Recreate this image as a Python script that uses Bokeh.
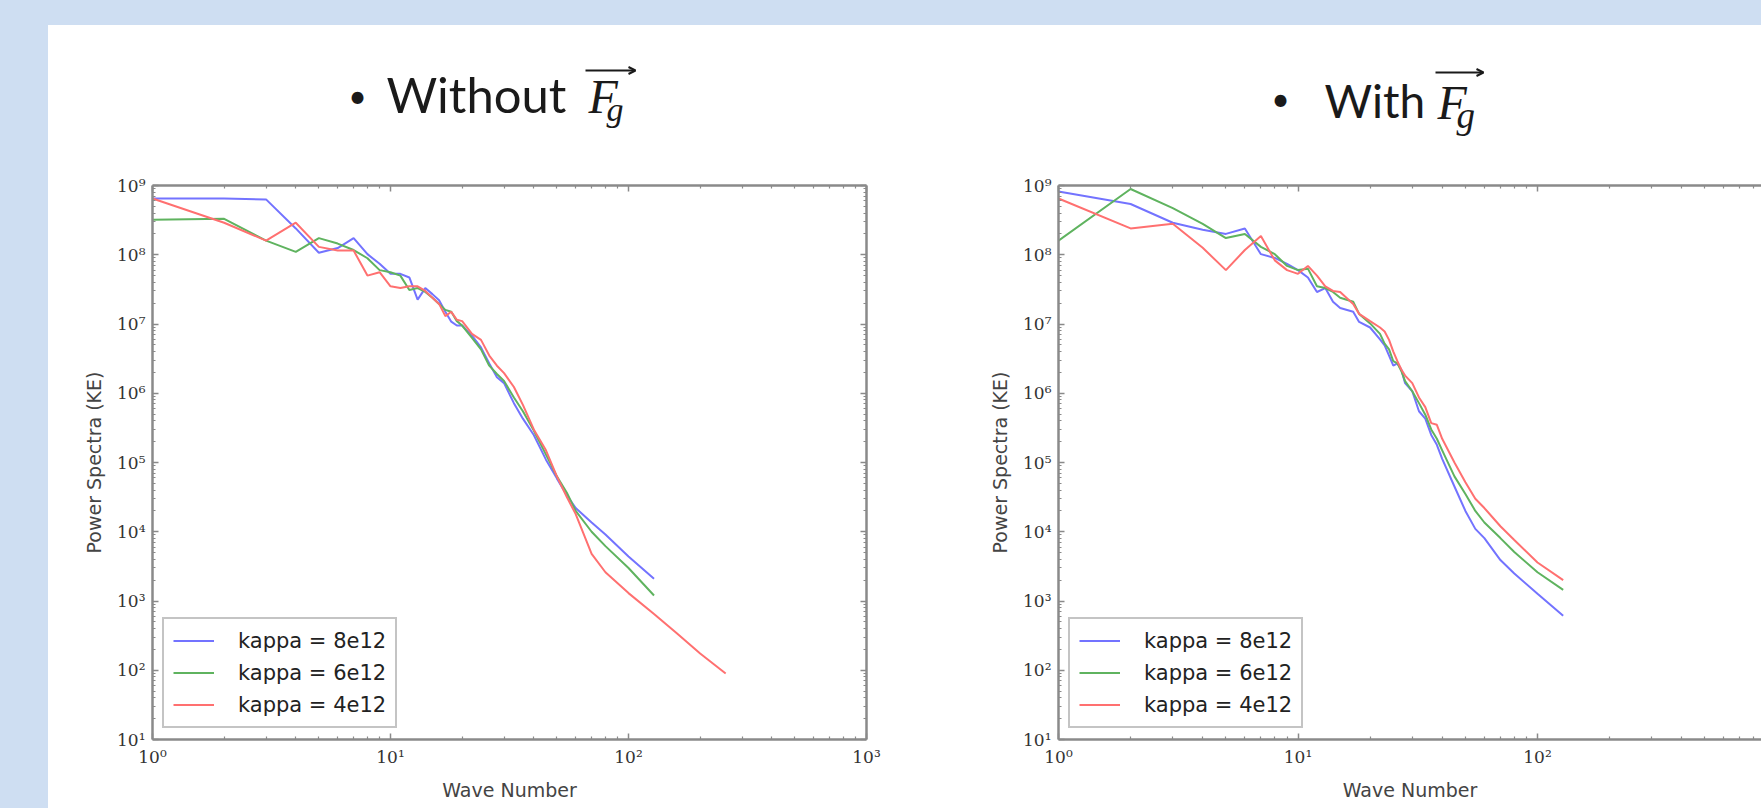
import numpy as np
from bokeh.plotting import figure
from bokeh.layouts import column, row
from bokeh.models import (FixedTicker, CustomJSTickFormatter, LogAxis, Legend, LegendItem,
                          Arrow, OpenHead, Range1d, Spacer)
from bokeh.core.properties import value
from bokeh.embed import file_html
from bokeh.resources import INLINE

BG = "#CEDEF2"

series_labels = ["kappa = 8e12", "kappa = 6e12", "kappa = 4e12"]
series_colors = ["#7373ff", "#5fb35f", "#ff7070"]
x_label = "Wave Number"
y_label = "Power Spectra (KE)"
titles = ["Without", "With"]

# ---- left panel (without F_g) ----
left_k = [1, 2, 3, 4, 5, 6, 7, 8, 9, 10, 11, 12, 13, 14, 15, 16, 17, 18, 19, 20,
          22, 24, 26, 28, 30, 33, 36, 40, 45, 50, 55, 60, 70, 80, 100, 128]
left_blue = [6.5e8, 6.5e8, 6.3e8, 2.4e8, 1.07e8, 1.25e8, 1.74e8, 1.02e8, 7.4e7, 5.3e7,
             5.3e7, 4.7e7, 2.25e7, 3.3e7, 2.7e7, 2.2e7, 1.5e7, 1.08e7, 9.5e6, 9.5e6,
             6.8e6, 4.6e6, 2.7e6, 1.7e6, 1.4e6, 7.2e5, 4.3e5, 2.5e5, 1.1e5, 5.9e4,
             3.4e4, 2.2e4, 1.36e4, 9.1e3, 4.4e3, 2.1e3]
left_green = [3.2e8, 3.3e8, 1.6e8, 1.1e8, 1.74e8, 1.45e8, 1.17e8, 8.9e7, 6.0e7, 5.6e7,
              5.0e7, 3.1e7, 3.3e7, 2.9e7, 2.4e7, 1.95e7, 1.6e7, 1.5e7, 1.1e7, 9.5e6,
              6.3e6, 4.3e6, 2.5e6, 1.9e6, 1.5e6, 8.7e5, 5.5e5, 2.9e5, 1.3e5, 6.3e4,
              3.7e4, 2.0e4, 1.0e4, 6.2e3, 3.0e3, 1.2e3]
left_red_k = left_k + [160, 200, 256]
left_red = [6.5e8, 2.9e8, 1.6e8, 2.9e8, 1.3e8, 1.15e8, 1.15e8, 5.0e7, 5.6e7, 3.5e7,
            3.3e7, 3.5e7, 3.5e7, 3.0e7, 2.4e7, 1.95e7, 1.3e7, 1.5e7, 1.15e7, 1.1e7,
            7.2e6, 5.9e6, 3.5e6, 2.5e6, 1.95e6, 1.23e6, 6.8e5, 3.0e5, 1.5e5, 6.3e4,
            3.2e4, 1.8e4, 4.8e3, 2.6e3, 1.3e3, 6.5e2, 3.4e2, 1.75e2, 90]

# ---- right panel (with F_g) ----
right_k = [1, 2, 3, 4, 5, 6, 7, 8, 9, 10, 11, 12, 13, 14, 15, 17, 18, 20, 22, 23,
           24, 25, 26, 27, 28, 30, 32, 34, 36, 38, 40, 45, 50, 55, 60, 70, 80, 100, 128]
right_blue = [8.2e8, 5.4e8, 2.9e8, 2.3e8, 2.0e8, 2.4e8, 1.02e8, 9.0e7, 7.4e7, 6.0e7,
              4.7e7, 2.9e7, 3.3e7, 2.1e7, 1.7e7, 1.5e7, 1.07e7, 8.9e6, 6.0e6, 4.9e6,
              3.5e6, 2.5e6, 2.7e6, 2.2e6, 1.4e6, 1.07e6, 5.5e5, 4.3e5, 2.5e5, 1.8e5,
              1.13e5, 4.5e4, 2.0e4, 1.1e4, 8.1e3, 3.9e3, 2.5e3, 1.27e3, 6.1e2]
right_green = [1.6e8, 8.9e8, 4.7e8, 2.8e8, 1.74e8, 2.0e8, 1.3e8, 1.02e8, 6.9e7, 6.0e7,
               6.3e7, 3.5e7, 3.3e7, 2.9e7, 2.4e7, 2.1e7, 1.4e7, 1.02e7, 7.2e6, 5.2e6,
               4.3e6, 2.9e6, 2.7e6, 2.1e6, 1.5e6, 1.07e6, 7.2e5, 4.9e5, 3.0e5, 2.2e5,
               1.5e5, 6.3e4, 3.5e4, 2.0e4, 1.36e4, 8.1e3, 5.1e3, 2.6e3, 1.45e3]
right_red = [6.5e8, 2.4e8, 2.8e8, 1.26e8, 6.0e7, 1.17e8, 1.86e8, 8.3e7, 6.0e7, 5.3e7,
             6.9e7, 5.0e7, 3.5e7, 3.0e7, 2.9e7, 1.95e7, 1.4e7, 1.1e7, 8.9e6, 7.8e6,
             5.9e6, 4.0e6, 2.9e6, 2.2e6, 1.8e6, 1.4e6, 8.7e5, 6.3e5, 3.7e5, 3.5e5,
             2.2e5, 1.0e5, 5.2e4, 3.0e4, 2.2e4, 1.2e4, 7.6e3, 3.6e3, 2.0e3]

x_decades = [0, 1, 2, 3]
y_decades = [1, 2, 3, 4, 5, 6, 7, 8, 9]

SUP_JS = """
const sup = {'0':'\\u2070','1':'\\u00B9','2':'\\u00B2','3':'\\u00B3','4':'\\u2074',
             '5':'\\u2075','6':'\\u2076','7':'\\u2077','8':'\\u2078','9':'\\u2079','-':'\\u207B'};
const e = Math.round(Math.log10(tick));
return '10' + String(e).split('').map(c => sup[c]).join('');
"""

AX_COL = "#8a8a8a"
TXT_COL = "#333333"
PAGE_W = 1761
TOP_BAND = 25
LEFT_BAND = 48
TITLE_H = 148          # height of the title strip above the panels
TOP_GAP = 12           # border between title strip and the frames


def tickers():
    xt = FixedTicker(ticks=[10.0 ** d for d in x_decades],
                     minor_ticks=[m * 10.0 ** d for d in x_decades[:-1] for m in range(2, 10)])
    yt = FixedTicker(ticks=[10.0 ** d for d in y_decades],
                     minor_ticks=[m * 10.0 ** d for d in y_decades[:-1] for m in range(2, 10)])
    return xt, yt


def style_axis(ax, ticker, show_labels=True):
    ax.ticker = ticker
    ax.axis_line_color = AX_COL
    ax.axis_line_width = 2.5
    ax.major_tick_line_color = AX_COL
    ax.minor_tick_line_color = AX_COL
    ax.major_tick_line_width = 1.5
    ax.minor_tick_line_width = 1.2
    ax.major_tick_in = 6
    ax.major_tick_out = 0
    ax.minor_tick_in = 3
    ax.minor_tick_out = 0
    if show_labels:
        ax.formatter = CustomJSTickFormatter(code=SUP_JS)
        ax.major_label_text_font = "DejaVu Serif"
        ax.major_label_text_font_size = "17px"
        ax.major_label_text_color = TXT_COL
    else:
        ax.major_label_text_font_size = "0px"
        ax.major_label_text_alpha = 0
        ax.major_label_standoff = 0


def make_panel(frame_w, x_end, border_left, border_right, kx, blue, green, redk, red,
               with_right_axis):
    p = figure(x_axis_type="log", y_axis_type="log",
               x_range=Range1d(1, x_end), y_range=Range1d(10, 1e9),
               frame_width=frame_w, frame_height=554,
               min_border_left=border_left, min_border_right=border_right,
               min_border_top=TOP_GAP, min_border_bottom=69,
               toolbar_location=None, output_backend="svg",
               background_fill_color="white", border_fill_color="white")
    p.outline_line_color = None
    p.grid.visible = False
    xt, yt = tickers()
    style_axis(p.xaxis[0], xt)
    style_axis(p.yaxis[0], yt)
    p.xaxis[0].major_label_standoff = 7
    p.yaxis[0].major_label_standoff = 7
    p.xaxis[0].axis_label = x_label
    p.yaxis[0].axis_label = y_label
    for ax in (p.xaxis[0], p.yaxis[0]):
        ax.axis_label_text_font = "DejaVu Sans"
        ax.axis_label_text_font_size = "19px"
        ax.axis_label_text_font_style = "normal"
        ax.axis_label_text_color = "#444444"
        ax.axis_label_standoff = 9
    top = LogAxis()
    style_axis(top, tickers()[0], show_labels=False)
    p.add_layout(top, "above")
    if with_right_axis:
        right = LogAxis()
        style_axis(right, tickers()[1], show_labels=False)
        p.add_layout(right, "right")

    rb = p.line(kx, blue, line_color=series_colors[0], line_width=2)
    rg = p.line(kx, green, line_color=series_colors[1], line_width=2)
    rr = p.line(redk, red, line_color=series_colors[2], line_width=2)

    legend = Legend(items=[LegendItem(label=series_labels[0], renderers=[rb]),
                           LegendItem(label=series_labels[1], renderers=[rg]),
                           LegendItem(label=series_labels[2], renderers=[rr])],
                    location=(10, 11), margin=0, padding=9, spacing=7,
                    glyph_width=41, glyph_height=25, label_height=25, label_standoff=24,
                    label_text_font="DejaVu Sans", label_text_font_size="21px",
                    label_text_color="#222222",
                    border_line_color=AX_COL, border_line_width=2.5,
                    background_fill_color="white", background_fill_alpha=1)
    p.add_layout(legend)
    return p


# ---------- title strip: one figure whose data space equals page pixels ----------
strip = figure(width=PAGE_W - LEFT_BAND, height=TITLE_H,
               x_range=Range1d(LEFT_BAND, PAGE_W),
               y_range=Range1d(TOP_BAND + TITLE_H, TOP_BAND), min_border=0,
               toolbar_location=None, output_backend="svg",
               background_fill_color="white", border_fill_color="white")
strip.outline_line_color = None
strip.axis.visible = False
strip.grid.visible = False

TCOL = "#1a1a1a"
# (bullet x, bullet y, word x, word y, word size, F x, F y, g x, g y, g size, arrow x0, x1, y)
title_pos = [(357, 95, 386, 93, "49px", 588, 96, 606, 109, "34px", 585, 635, 70),
             (1280, 98, 1324, 100, "46px", 1437, 102, 1456, 115, "37px", 1435, 1483, 72)]

for word, (bx, by, wx, wy, ws, fx, fy, gx, gy, gs, ax0, ax1, ay) in zip(titles, title_pos):
    strip.text(x=[bx], y=[by], text=["\u2022"], text_align="center", text_baseline="middle",
               text_font=value("Lato"), text_font_size="32px", text_color=TCOL)
    strip.text(x=[wx], y=[wy], text=[word], text_align="left", text_baseline="middle",
               text_font=value("Lato"), text_font_size=ws, text_color=TCOL)
    strip.text(x=[fx], y=[fy], text=["F"], text_align="left", text_baseline="middle",
               text_font=value("Liberation Serif"), text_font_style="italic",
               text_font_size="48px", text_color=TCOL)
    strip.text(x=[gx], y=[gy], text=["g"], text_align="left", text_baseline="middle",
               text_font=value("Liberation Serif"), text_font_style="italic",
               text_font_size=gs, text_color=TCOL)
    strip.add_layout(Arrow(x_start=ax0, y_start=ay, x_end=ax1, y_end=ay,
                           line_color=TCOL, line_width=2,
                           end=OpenHead(size=7, line_width=2, line_color=TCOL)))

# ---------- panels ----------
right_frame_w = 703
pL = make_panel(714, 1000.0, 104, 74, left_k, left_blue, left_green, left_red_k, left_red, True)
pR = make_panel(right_frame_w, 10 ** (right_frame_w / 239.5), 118, 0,
                right_k, right_blue, right_green, right_k, right_red, False)


def band(w, h):
    return Spacer(width=w, height=h, styles={"background-color": BG})


panel_h = 808 - TOP_BAND - TITLE_H
layout = column(band(PAGE_W, TOP_BAND),
                row(band(LEFT_BAND, TITLE_H), strip, spacing=0),
                row(band(LEFT_BAND, panel_h), pL, pR, spacing=0),
                spacing=0)

open("out.html", "w", encoding="utf-8").write(file_html(layout, INLINE))
